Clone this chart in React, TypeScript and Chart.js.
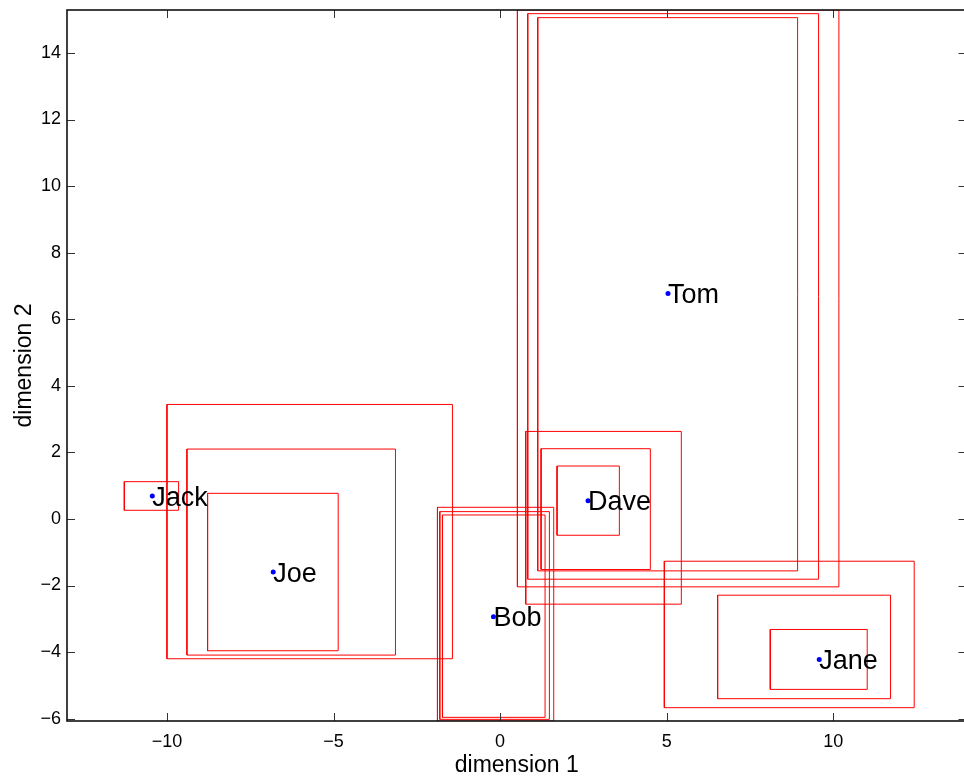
import { useEffect, useRef } from 'react';
import { Chart, registerables } from 'chart.js';

Chart.register(...registerables);

// Labelled points
const names = ['Jack', 'Joe', 'Bob', 'Tom', 'Dave', 'Jane'];
const pointX = [-10.44, -6.81, -0.2, 5.04, 2.64, 9.58];
const pointY = [0.69, -1.59, -2.94, 6.77, 0.55, -4.22];

// Rectangles (x1, x2, y1, y2)
const rectX1 = [-11.28, -10.0, -9.4, -8.78, -1.88, -1.81, -1.73, 0.52, 0.83, 1.13, 0.77, 1.23, 1.71, 4.93, 6.53, 8.11];
const rectX2 = [-9.65, -1.43, -3.14, -4.86, 1.61, 1.48, 1.35, 10.17, 9.56, 8.93, 5.44, 4.51, 3.58, 12.43, 11.72, 11.02];
const rectY1 = [0.26, -4.2, -4.09, -3.96, -6.07, -6.02, -5.96, -2.04, -1.81, -1.56, -2.56, -1.52, -0.49, -5.67, -5.4, -5.12];
const rectY2 = [1.12, 3.44, 2.1, 0.77, 0.35, 0.22, 0.12, 15.29, 15.18, 15.06, 2.63, 2.11, 1.59, -1.27, -2.29, -3.32];

// Axes
const xMin = -13;
const xMax = 14;
const yMin = -6.07;
const yMax = 15.29;
const xStep = 5;
const yStep = 2;
const xTitle = 'dimension 1';
const yTitle = 'dimension 2';

const FONT = '"Liberation Sans", Arial, Helvetica, sans-serif';

export default function App() {
  const ref = useRef<HTMLCanvasElement>(null);

  useEffect(() => {
    if (!ref.current) return;

    const rectDatasets = rectX1.map((x1, i) => ({
      type: 'scatter' as const,
      data: [
        { x: x1, y: rectY1[i] },
        { x: rectX2[i], y: rectY1[i] },
        { x: rectX2[i], y: rectY2[i] },
        { x: x1, y: rectY2[i] },
        { x: x1, y: rectY1[i] },
      ],
      showLine: true,
      borderColor: 'rgb(255,0,0)',
      backgroundColor: 'rgb(255,0,0)',
      borderWidth: 1,
      pointRadius: 0,
      pointHoverRadius: 0,
      fill: false,
      tension: 0,
      order: 2,
    }));

    const pointDataset = {
      type: 'scatter' as const,
      data: pointX.map((x, i) => ({ x, y: pointY[i] })),
      showLine: false,
      pointRadius: 2.5,
      pointBackgroundColor: 'rgb(0,0,255)',
      pointBorderColor: 'rgb(0,0,255)',
      pointBorderWidth: 0,
      order: 1,
    };

    const labelPlugin = {
      id: 'pointLabels',
      afterDatasetsDraw(chart: any) {
        const { ctx, scales } = chart;
        const size = 27;
        ctx.save();
        ctx.font = `${size}px ${FONT}`;
        ctx.fillStyle = '#000';
        ctx.textAlign = 'left';
        ctx.textBaseline = 'alphabetic';
        names.forEach((n, i) => {
          const px = scales.x.getPixelForValue(pointX[i]);
          const py = scales.y.getPixelForValue(pointY[i]);
          ctx.fillText(n, px, py + 0.358 * size);
        });
        ctx.restore();
      },
    };

    const framePlugin = {
      id: 'frame',
      afterDraw(chart: any) {
        const { ctx, chartArea, scales } = chart;
        const { left, right, top, bottom } = chartArea;
        const tl = 8;
        ctx.save();
        ctx.strokeStyle = '#333';
        ctx.lineWidth = 1;
        ctx.beginPath();
        scales.x.ticks.forEach((t: any) => {
          const p = Math.round(scales.x.getPixelForValue(t.value)) + 0.5;
          ctx.moveTo(p, bottom);
          ctx.lineTo(p, bottom - tl);
          ctx.moveTo(p, top);
          ctx.lineTo(p, top + tl);
        });
        scales.y.ticks.forEach((t: any) => {
          const p = Math.round(scales.y.getPixelForValue(t.value)) + 0.5;
          ctx.moveTo(left, p);
          ctx.lineTo(left + tl, p);
          ctx.moveTo(right, p);
          ctx.lineTo(right - tl, p);
        });
        ctx.stroke();
        ctx.strokeStyle = '#111';
        ctx.lineWidth = 1.6;
        ctx.strokeRect(left, top, right - left, bottom - top);
        ctx.restore();
      },
    };

    const fmt = (v: any) => String(v).replace('-', '\u2212');

    const chart = new Chart(ref.current, {
      type: 'scatter',
      data: { datasets: [...rectDatasets, pointDataset] as any },
      options: {
        responsive: false,
        animation: false,
        devicePixelRatio: 1,
        layout: { autoPadding: false, padding: { left: 0, top: 10, right: 1.5, bottom: 0 } },
        plugins: {
          legend: { display: false },
          tooltip: { enabled: false },
        },
        events: [],
        scales: {
          x: {
            type: 'linear',
            min: xMin,
            max: xMax,
            grid: { display: false, drawTicks: false },
            border: { display: false },
            ticks: {
              stepSize: xStep,
              includeBounds: false,
              padding: 10,
              color: '#000',
              font: { family: FONT, size: 18 },
              callback: (v: any) => fmt(v),
              maxRotation: 0,
              autoSkip: false,
            },
            title: {
              display: true,
              text: xTitle,
              color: '#000',
              font: { family: FONT, size: 23 },
              padding: { top: 0, bottom: 1 },
            },
            afterFit: (s: any) => {
              s.height = 59;
              s.paddingLeft = 0;
              s.paddingRight = 0;
            },
          },
          y: {
            type: 'linear',
            min: yMin,
            max: yMax,
            grid: { display: false, drawTicks: false },
            border: { display: false },
            ticks: {
              stepSize: yStep,
              includeBounds: false,
              padding: 6,
              color: '#000',
              font: { family: FONT, size: 18 },
              callback: (v: any) => fmt(v),
              autoSkip: false,
            },
            title: {
              display: true,
              text: yTitle,
              color: '#000',
              font: { family: FONT, size: 23 },
              padding: { top: 11, bottom: 0 },
            },
            afterFit: (s: any) => {
              s.width = 67;
              s.paddingTop = 0;
              s.paddingBottom = 0;
            },
          },
        },
      },
      plugins: [labelPlugin, framePlugin],
    });

    return () => chart.destroy();
  }, []);

  return (
    <div style={{ position: 'fixed', left: 0, top: 0, width: 968, height: 780, background: '#fff' }}>
      <canvas ref={ref} width={968} height={780} style={{ width: 968, height: 780, display: 'block' }} />
    </div>
  );
}
